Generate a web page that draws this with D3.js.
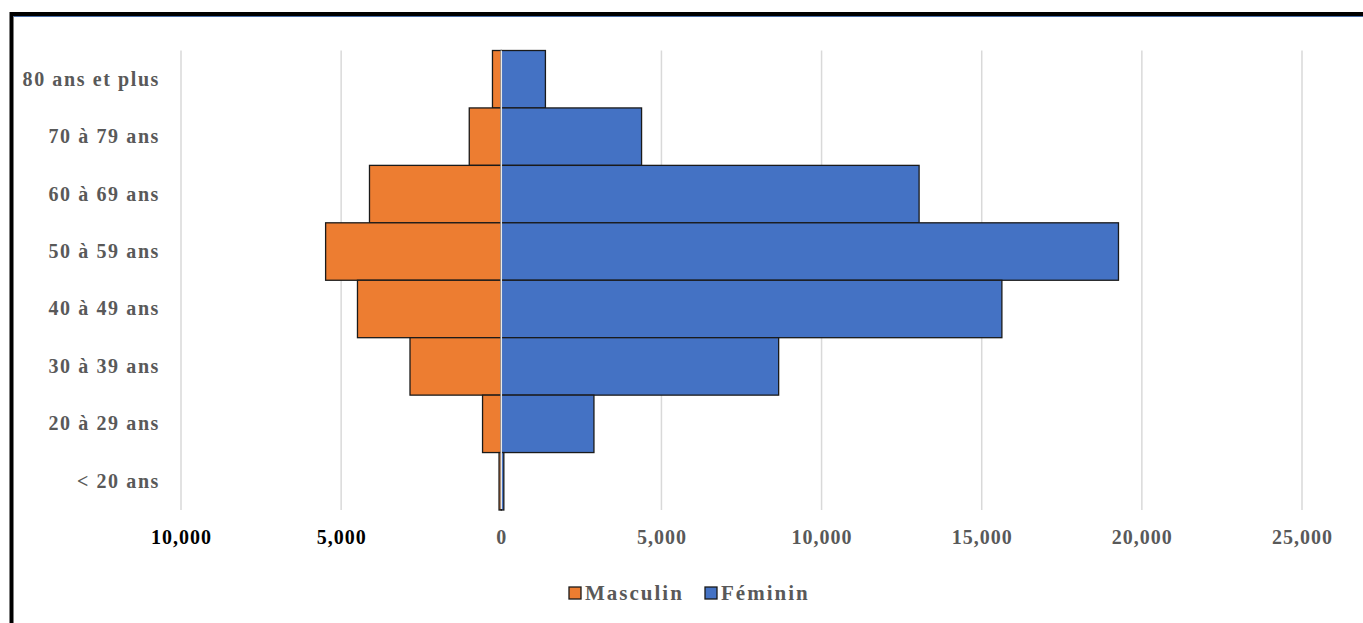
<!DOCTYPE html>
<html>
<head>
<meta charset="utf-8">
<script src="https://cdn.jsdelivr.net/npm/d3@7"></script>
<style>
  body { margin: 0; background: #fff; }
  svg { display: block; }
</style>
</head>
<body>
<div id="root"></div>
<script>
const categories = ["80 ans et plus", "70 à 79 ans", "60 à 69 ans", "50 à 59 ans", "40 à 49 ans", "30 à 39 ans", "20 à 29 ans", "< 20 ans"]
const masculin = [275, 1000, 4115, 5485, 4490, 2850, 585, 70]
const feminin = [1378, 4380, 13045, 19270, 15630, 8660, 2893, 80]
const xTicks = [-10000, -5000, 0, 5000, 10000, 15000, 20000, 25000]
const seriesNames = ["Masculin", "Féminin"]
const seriesColors = ["#ED7D31", "#4472C4"]

const width = 1363
const height = 623
const FONT = "'Liberation Serif', 'DejaVu Serif', serif"

const svg = d3.select("#root").append("svg")
  .attr("width", width)
  .attr("height", height)

// frame (cropped on the right and bottom like the screenshot)
svg.append("path")
  .attr("d", `M11.5,${height + 5} V14 H${width + 5}`)
  .attr("fill", "none")
  .attr("stroke", "#000")
  .attr("stroke-width", 4)
svg.append("line")
  .attr("x1", 13.5).attr("x2", width)
  .attr("y1", 16.5).attr("y2", 16.5)
  .attr("stroke", "#4a6fa8")
  .attr("stroke-width", 1)

const xScale = d3.scaleLinear()
  .domain([-10000, 25000])
  .range([181, 1302])

const yScale = d3.scaleBand()
  .domain(categories)
  .range([50.5, 510])
  .padding(0)

// grid
svg.append("g")
  .selectAll("line")
  .data(xTicks.filter(d => d !== 0))
  .join("line")
  .attr("x1", d => xScale(d)).attr("x2", d => xScale(d))
  .attr("y1", yScale.range()[0]).attr("y2", yScale.range()[1])
  .attr("stroke", "#d9d9d9")
  .attr("stroke-width", 1.5)

const rows = categories.map((c, i) => ({ cat: c, m: masculin[i], f: feminin[i] }))

const bars = svg.append("g")
bars.selectAll("rect.m")
  .data(rows)
  .join("rect")
  .attr("class", "m")
  .attr("x", d => xScale(-d.m))
  .attr("y", d => yScale(d.cat))
  .attr("width", d => xScale(0) - xScale(-d.m))
  .attr("height", yScale.bandwidth())
  .attr("fill", seriesColors[0])
  .attr("stroke", "#1a1a1a")
  .attr("stroke-width", 1.3)

bars.selectAll("rect.f")
  .data(rows)
  .join("rect")
  .attr("class", "f")
  .attr("x", xScale(0))
  .attr("y", d => yScale(d.cat))
  .attr("width", d => xScale(d.f) - xScale(0))
  .attr("height", yScale.bandwidth())
  .attr("fill", seriesColors[1])
  .attr("stroke", "#1a1a1a")
  .attr("stroke-width", 1.3)

// zero gridline drawn over the bars
svg.append("line")
  .attr("x1", xScale(0)).attr("x2", xScale(0))
  .attr("y1", yScale.range()[0]).attr("y2", yScale.range()[1] - 1)
  .attr("stroke", "#e8e8e8")
  .attr("stroke-width", 1.5)

// y labels
const yAxis = svg.append("g")
  .attr("transform", `translate(160,0)`)
  .call(d3.axisLeft(yScale).tickSize(0).tickPadding(0))
yAxis.select(".domain").remove()
yAxis.selectAll("text")
  .attr("fill", "#595959")
  .style("font-family", FONT)
  .style("font-weight", "bold")
  .style("font-size", "20px")
  .style("letter-spacing", "1.6px")

// x labels
const xAxis = svg.append("g")
  .attr("transform", `translate(0,537)`)
  .call(d3.axisBottom(xScale).tickValues(xTicks).tickSize(0).tickPadding(0)
    .tickFormat(d => d3.format(",")(Math.abs(d))))
xAxis.select(".domain").remove()
xAxis.selectAll("text")
  .attr("dy", "0.35em")
  .attr("fill", d => d < 0 ? "#000" : "#595959")
  .style("font-family", FONT)
  .style("font-weight", "bold")
  .style("font-size", "20px")
  .style("letter-spacing", "1px")

// legend
const legend = svg.append("g")
const legendX = [569, 705]
seriesNames.forEach((name, i) => {
  legend.append("rect")
    .attr("x", legendX[i]).attr("y", 587)
    .attr("width", 12).attr("height", 12)
    .attr("fill", seriesColors[i])
    .attr("stroke", "#1a1a1a")
    .attr("stroke-width", 1.3)
  legend.append("text")
    .attr("x", legendX[i] + 16).attr("y", 593)
    .attr("dy", "0.35em")
    .attr("fill", "#595959")
    .style("font-family", FONT)
    .style("font-weight", "bold")
    .style("font-size", "21px")
    .style("letter-spacing", "2px")
    .text(name)
})
</script>
</body>
</html>
